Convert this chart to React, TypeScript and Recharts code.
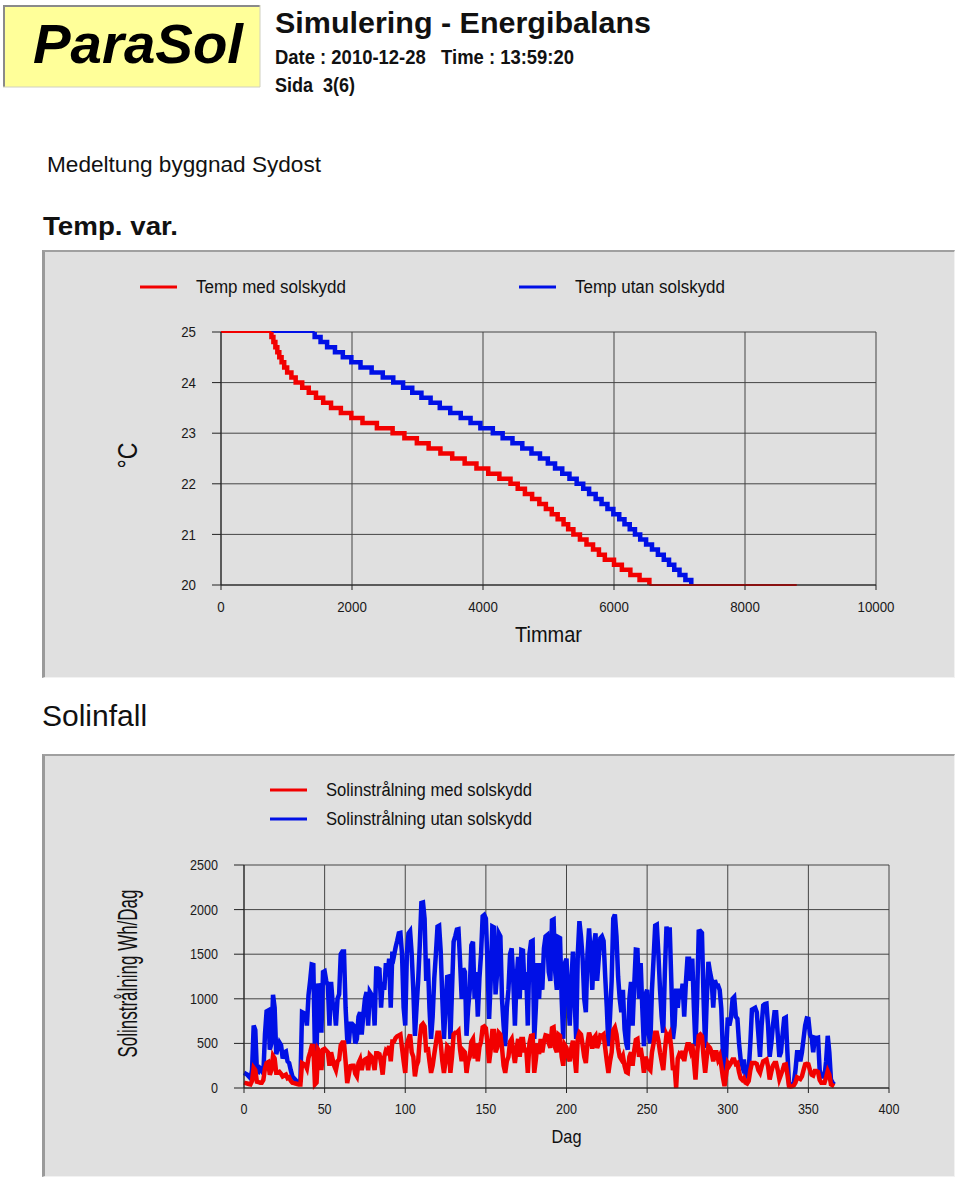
import React from 'react';
import { CartesianGrid, Line, LineChart, XAxis, YAxis } from 'recharts';

// temperature duration curve: hours at which each 0.1 degree level is reached
const tempLevels = [
  24.9, 24.8, 24.7, 24.6, 24.5, 24.4, 24.3, 24.2, 24.1, 24.0,
  23.9, 23.8, 23.7, 23.6, 23.5, 23.4, 23.3, 23.2, 23.1, 23.0,
  22.9, 22.8, 22.7, 22.6, 22.5, 22.4, 22.3, 22.2, 22.1, 22.0,
  21.9, 21.8, 21.7, 21.6, 21.5, 21.4, 21.3, 21.2, 21.1, 21.0,
  20.9, 20.8, 20.7, 20.6, 20.5, 20.4, 20.3, 20.2, 20.1, 20.0,
];
const redHours = [
  770, 800, 830, 860, 890, 925, 965, 1010, 1075, 1140,
  1240, 1340, 1450, 1560, 1680, 1830, 1990, 2160, 2380, 2620,
  2800, 2990, 3170, 3350, 3530, 3720, 3900, 4080, 4250, 4420,
  4530, 4640, 4750, 4860, 4960, 5050, 5140, 5230, 5300, 5380,
  5480, 5580, 5680, 5770, 5860, 6000, 6120, 6250, 6390, 6540,
];
const blueHours = [
  1430, 1520, 1620, 1740, 1860, 1990, 2130, 2300, 2470, 2630,
  2780, 2920, 3060, 3200, 3340, 3500, 3660, 3810, 3960, 4150,
  4300, 4450, 4600, 4740, 4870, 4990, 5100, 5210, 5320, 5430,
  5530, 5620, 5720, 5810, 5900, 5990, 6080, 6160, 6240, 6320,
  6400, 6490, 6580, 6670, 6760, 6840, 6920, 7000, 7090, 7180,
];
const redEndHours = 8790;
const tempMax = 25;
const tempMin = 20;
const hourTicks = [0, 2000, 4000, 6000, 8000, 10000];
const tempTicks = [20, 21, 22, 23, 24, 25];

// daily solar gain, day 0..366
const solarUtan = [
  170, 160, 150, 130, 110, 200, 700, 650, 190, 180, 220, 200, 160, 600, 860, 870, 430, 500,
  1045, 900, 380, 450, 510, 480, 330, 400, 410, 300, 280, 200, 130, 110, 90, 70, 60, 80,
  850, 840, 830, 700, 1040, 1200, 1385, 1380, 400, 420, 1170, 1100, 620, 1300, 1310, 1200, 1150, 700,
  1190, 950, 920, 700, 1000, 1050, 1500, 1530, 1530, 900, 550, 500, 720, 720, 700, 500, 550, 800,
  850, 600, 820, 1000, 1075, 700, 1080, 1050, 1020, 700, 1340, 1340, 1330, 900, 1190, 1100, 1400, 1250,
  1450, 900, 1530, 1480, 1575, 1650, 1735, 1740, 1500, 900, 700, 1500, 1735, 1760, 1500, 1100, 585, 900,
  1200, 1600, 2075, 2080, 1900, 1200, 1450, 900, 550, 800, 1230, 1500, 1810, 1820, 1530, 1000, 550, 900,
  1245, 1250, 550, 1100, 1640, 1700, 1775, 1780, 1415, 1000, 1340, 1300, 585, 900, 1100, 1600, 1640, 1000,
  1300, 800, 1230, 1500, 1925, 1940, 1900, 1400, 775, 1200, 1810, 1800, 1050, 1300, 1735, 1700, 1000, 700,
  470, 900, 1100, 1500, 1565, 1200, 700, 1200, 1470, 1000, 1547, 1540, 1100, 1300, 700, 1500, 1640, 1650,
  550, 900, 1400, 1000, 1400, 1100, 1565, 1700, 1715, 1300, 1200, 1880, 1890, 1300, 1100, 1690, 1680, 1000,
  550, 1400, 1450, 1000, 700, 1200, 1530, 1000, 550, 1500, 1870, 1700, 1450, 1000, 850, 1500, 1790, 1500,
  1100, 1600, 1735, 1200, 1450, 1680, 1700, 1650, 1250, 900, 470, 800, 1200, 1900, 1945, 1700, 1250, 1000,
  850, 1100, 660, 500, 430, 1000, 1190, 700, 1150, 1550, 1547, 1000, 1400, 900, 470, 1050, 1100, 600,
  500, 1100, 1450, 1820, 1830, 1500, 1100, 800, 620, 1300, 1810, 1600, 1800, 1200, 550, 700, 1113, 900,
  1113, 1000, 1170, 800, 1170, 1450, 1450, 1200, 1450, 900, 470, 1000, 1755, 1760, 1740, 1000, 450, 1000,
  1415, 1300, 1210, 900, 1210, 1150, 1150, 1100, 890, 400, 55, 400, 790, 700, 790, 1000, 1020, 800,
  775, 500, 320, 250, 320, 150, 130, 200, 500, 880, 890, 900, 850, 600, 350, 700, 925, 940,
  945, 700, 350, 500, 700, 850, 850, 600, 350, 400, 600, 780, 790, 400, 40, 30, 40, 60,
  200, 400, 400, 300, 400, 550, 700, 780, 775, 600, 565, 400, 565, 560, 565, 200, 130, 130,
  130, 300, 585, 400, 95, 60, 40,
];
const solarMed = [
  60, 55, 50, 45, 40, 80, 225, 200, 70, 65, 60, 60, 90, 220, 280, 290, 150, 200,
  360, 330, 170, 170, 180, 160, 130, 140, 150, 110, 120, 80, 60, 55, 50, 45, 40, 40,
  280, 270, 260, 220, 340, 400, 470, 470, 40, 60, 430, 400, 200, 430, 440, 420, 400, 250,
  400, 320, 245, 200, 300, 320, 480, 510, 510, 300, 55, 150, 245, 250, 250, 160, 130, 280,
  320, 200, 300, 320, 330, 200, 370, 350, 300, 200, 390, 390, 380, 280, 150, 350, 420, 400,
  470, 300, 520, 520, 560, 580, 590, 600, 450, 300, 170, 480, 550, 600, 400, 350, 130, 250,
  300, 550, 700, 720, 690, 400, 460, 300, 170, 250, 380, 500, 620, 620, 500, 300, 170, 300,
  470, 450, 170, 350, 600, 620, 620, 640, 430, 300, 420, 400, 170, 300, 350, 520, 550, 330,
  500, 300, 460, 520, 680, 690, 670, 500, 280, 430, 640, 640, 400, 450, 620, 600, 450, 250,
  170, 300, 350, 520, 550, 400, 280, 430, 550, 350, 550, 550, 400, 450, 170, 500, 585, 590,
  170, 320, 500, 380, 550, 400, 520, 590, 585, 500, 450, 670, 680, 450, 400, 600, 585, 350,
  250, 480, 450, 350, 300, 450, 530, 350, 170, 560, 620, 600, 480, 350, 280, 500, 620, 560,
  440, 560, 585, 450, 500, 590, 585, 600, 450, 300, 170, 300, 400, 650, 680, 600, 450, 350,
  320, 360, 250, 180, 170, 350, 400, 250, 420, 540, 550, 350, 450, 330, 170, 350, 300, 220,
  200, 400, 500, 620, 620, 530, 400, 300, 200, 420, 600, 560, 600, 450, 200, 250, 0, 330,
  380, 360, 415, 300, 415, 490, 490, 420, 490, 300, 95, 380, 585, 600, 580, 350, 170, 350,
  470, 450, 400, 300, 400, 400, 320, 360, 250, 120, 20, 150, 280, 250, 280, 320, 320, 270,
  280, 180, 110, 90, 110, 60, 50, 80, 200, 280, 280, 280, 270, 200, 170, 240, 300, 310,
  320, 240, 95, 180, 250, 280, 280, 200, 100, 150, 200, 260, 265, 150, 20, 15, 20, 30,
  60, 120, 110, 100, 130, 200, 265, 270, 265, 200, 150, 140, 190, 190, 180, 90, 60, 60,
  60, 120, 190, 150, 40, 30, 20,
];
const dayTicks = [0, 50, 100, 150, 200, 250, 300, 350, 400];
const solarTicks = [0, 500, 1000, 1500, 2000, 2500];

const RED = '#f20000';
const BLUE = '#0010e6';
const GRID = '#454545';
const INK = '#111';
const FONT = '"Liberation Sans", Arial, Helvetica, sans-serif';
const PANEL_BG = '#e0e0e0';

const redFlatTop = [{ h: 0, t: tempMax }, { h: redHours[0], t: tempMax }];
const redSteps = [{ h: redHours[0], t: tempMax }, ...tempLevels.map((t, i) => ({ h: redHours[i], t }))];
const redFlatEnd = [{ h: redHours[redHours.length - 1], t: tempMin }, { h: redEndHours, t: tempMin }];
const blueFlatTop = [{ h: 0, t: tempMax }, { h: blueHours[0], t: tempMax }];
const blueSteps = [{ h: blueHours[0], t: tempMax }, ...tempLevels.map((t, i) => ({ h: blueHours[i], t }))];

const solarData = solarUtan.map((v, i) => ({ day: i, utan: v, med: solarMed[i] }));

const panelStyle = (top: number, height: number): React.CSSProperties => ({
  position: 'absolute',
  left: 42,
  top,
  width: 913,
  height,
  background: PANEL_BG,
  borderLeft: '3px solid #9a9a9a',
  borderTop: '2px solid #a0a0a0',
  borderRight: '1px solid #f2f2f2',
  borderBottom: '1px solid #f2f2f2',
  boxSizing: 'border-box',
});

// narrow-looking text: the original uses a condensed face, so squeeze a regular one
function LegendItem({ color, label, x, y, textW }: { color: string; label: string; x: number; y: number; textW: number }) {
  return (
    <svg width={textW + 130} height={26} style={{ position: 'absolute', left: x, top: y - 13, overflow: 'visible' }}>
      <line x1={0} x2={37} y1={13} y2={13} stroke={color} strokeWidth={3} />
      <text x={56} y={19} fontSize={18} fill={INK} fontFamily={FONT} textLength={textW} lengthAdjust="spacingAndGlyphs">
        {label}
      </text>
    </svg>
  );
}

const xTick = (size: number, digitW: number) => (props: any) => {
  const { x, y, payload } = props;
  const s = String(payload.value);
  return (
    <text x={x} y={y} dy="0.71em" textAnchor="middle" fontSize={size} fill="#1a1a1a" fontFamily={FONT} textLength={s.length * digitW} lengthAdjust="spacingAndGlyphs">
      {s}
    </text>
  );
};
const yTick = (size: number, digitW: number) => (props: any) => {
  const { x, y, payload } = props;
  const s = String(payload.value);
  return (
    <text x={x} y={y} dy="0.355em" textAnchor="end" fontSize={size} fill="#1a1a1a" fontFamily={FONT} textLength={s.length * digitW} lengthAdjust="spacingAndGlyphs">
      {s}
    </text>
  );
};

const stepLine = (key: string, data: { h: number; t: number }[], color: string, width: number) => (
  <Line
    key={key}
    data={data}
    dataKey="t"
    type="stepAfter"
    stroke={color}
    strokeWidth={width}
    dot={false}
    activeDot={false}
    isAnimationActive={false}
    strokeLinecap="butt"
    strokeLinejoin="miter"
  />
);

function TempChart() {
  return (
    <div style={panelStyle(250, 428)}>
      <LegendItem color={RED} label="Temp med solskydd" x={95} y={35} textW={150} />
      <LegendItem color={BLUE} label="Temp utan solskydd" x={474} y={35} textW={150} />
      <LineChart width={910} height={426} margin={{ top: 80, right: 79, left: 116, bottom: 33 }}>
        <CartesianGrid stroke={GRID} strokeWidth={1} horizontalValues={tempTicks} verticalValues={hourTicks} />
        <XAxis
          type="number"
          dataKey="h"
          domain={[0, 10000]}
          ticks={hourTicks}
          allowDataOverflow
          height={60}
          stroke="#222"
          tickSize={5}
          tickMargin={12}
          tick={xTick(14.5, 7.4)}
          label={{
            content: ({ viewBox }: any) => (
              <text x={viewBox.x + viewBox.width / 2} y={viewBox.y + 57} textAnchor="middle" fontSize={22} fill={INK} fontFamily={FONT} textLength={67} lengthAdjust="spacingAndGlyphs">
                Timmar
              </text>
            ),
          }}
        />
        <YAxis
          type="number"
          domain={[tempMin, tempMax]}
          ticks={tempTicks}
          width={60}
          stroke="#222"
          tickSize={9}
          tickMargin={16}
          tick={yTick(14.5, 7.4)}
          label={{
            content: ({ viewBox }: any) => {
              const cx = viewBox.x + viewBox.width - 93;
              const cy = viewBox.y + viewBox.height / 2 - 3;
              return (
                <text x={cx} y={cy} transform={`rotate(-90, ${cx}, ${cy})`} textAnchor="middle" dominantBaseline="central" fontSize={27} fill={INK} fontFamily={FONT} textLength={26} lengthAdjust="spacingAndGlyphs">
                  °C
                </text>
              );
            },
          }}
        />
        {stepLine('blueTop', blueFlatTop, BLUE, 2)}
        {stepLine('blueSteps', blueSteps, BLUE, 4.5)}
        {stepLine('redTop', redFlatTop, RED, 2)}
        {stepLine('redSteps', redSteps, RED, 4.5)}
        {stepLine('redEnd', redFlatEnd, RED, 2)}
      </LineChart>
    </div>
  );
}

function SolarChart() {
  return (
    <div style={panelStyle(754, 423)}>
      <LegendItem color={RED} label="Solinstrålning med solskydd" x={225} y={34} textW={206} />
      <LegendItem color={BLUE} label="Solinstrålning utan solskydd" x={225} y={63} textW={206} />
      <LineChart width={910} height={421} data={solarData} margin={{ top: 109, right: 66, left: 139, bottom: 29 }}>
        <CartesianGrid stroke={GRID} strokeWidth={1} horizontalValues={solarTicks} verticalValues={dayTicks} />
        <XAxis
          type="number"
          dataKey="day"
          domain={[0, 400]}
          ticks={dayTicks}
          height={60}
          stroke="#222"
          tickSize={5}
          tickMargin={11}
          tick={xTick(14, 7)}
          label={{
            content: ({ viewBox }: any) => (
              <text x={viewBox.x + viewBox.width / 2} y={viewBox.y + 55} textAnchor="middle" fontSize={19} fill={INK} fontFamily={FONT} textLength={30} lengthAdjust="spacingAndGlyphs">
                Dag
              </text>
            ),
          }}
        />
        <YAxis
          type="number"
          domain={[0, 2500]}
          ticks={solarTicks}
          width={60}
          stroke="#222"
          tickSize={10}
          tickMargin={16}
          tick={yTick(14, 7)}
          label={{
            content: ({ viewBox }: any) => {
              const cx = viewBox.x + viewBox.width - 116;
              const cy = viewBox.y + viewBox.height / 2 - 3;
              return (
                <text
                  x={cx}
                  y={cy}
                  transform={`rotate(-90, ${cx}, ${cy})`}
                  textAnchor="middle"
                  dominantBaseline="central"
                  fontSize={27}
                  fill={INK}
                  fontFamily={FONT}
                  textLength={168}
                  lengthAdjust="spacingAndGlyphs"
                >
                  Solinstrålning Wh/Dag
                </text>
              );
            },
          }}
        />
        <Line dataKey="utan" type="linear" stroke={BLUE} strokeWidth={4.5} dot={false} activeDot={false} isAnimationActive={false} />
        <Line dataKey="med" type="linear" stroke={RED} strokeWidth={4.5} dot={false} activeDot={false} isAnimationActive={false} />
      </LineChart>
    </div>
  );
}

function Header() {
  return (
    <svg width={960} height={250} style={{ position: 'absolute', left: 0, top: 0 }} fontFamily={FONT}>
      <rect x={3} y={5} width={257} height={82} fill="#ffff99" />
      <path d="M4 87 V6 H260" fill="none" stroke="#8a8a8a" strokeWidth={2} />
      <path d="M3 87 H260 V5" fill="none" stroke="#d0d0c0" strokeWidth={1} />
      <text x={33} y={63} fontSize={56} fontWeight="bold" fontStyle="italic" fill="#000" textLength={210} lengthAdjust="spacingAndGlyphs">
        ParaSol
      </text>
      <text x={275} y={33} fontSize={30} fontWeight="bold" fill={INK} textLength={376} lengthAdjust="spacingAndGlyphs">
        Simulering - Energibalans
      </text>
      <text x={275} y={64} fontSize={20} fontWeight="bold" fill={INK} textLength={299} lengthAdjust="spacingAndGlyphs" xmlSpace="preserve">
        Date : 2010-12-28   Time : 13:59:20
      </text>
      <text x={275} y={92} fontSize={20} fontWeight="bold" fill={INK} textLength={80} lengthAdjust="spacingAndGlyphs" xmlSpace="preserve">
        Sida  3(6)
      </text>
      <text x={47} y={172} fontSize={22.5} fill={INK} textLength={274} lengthAdjust="spacingAndGlyphs">
        Medeltung byggnad Sydost
      </text>
      <text x={43} y={235} fontSize={26.5} fontWeight="bold" fill={INK} textLength={135} lengthAdjust="spacingAndGlyphs">
        Temp. var.
      </text>
    </svg>
  );
}

export default function App() {
  return (
    <div style={{ position: 'absolute', left: 0, top: 0, width: 960, height: 1182, background: '#fff', fontFamily: FONT }}>
      <Header />
      <TempChart />
      <div style={{ position: 'absolute', left: 42, top: 698, fontSize: 30, color: INK, fontFamily: FONT, lineHeight: '36px' }}>
        Solinfall
      </div>
      <SolarChart />
    </div>
  );
}
